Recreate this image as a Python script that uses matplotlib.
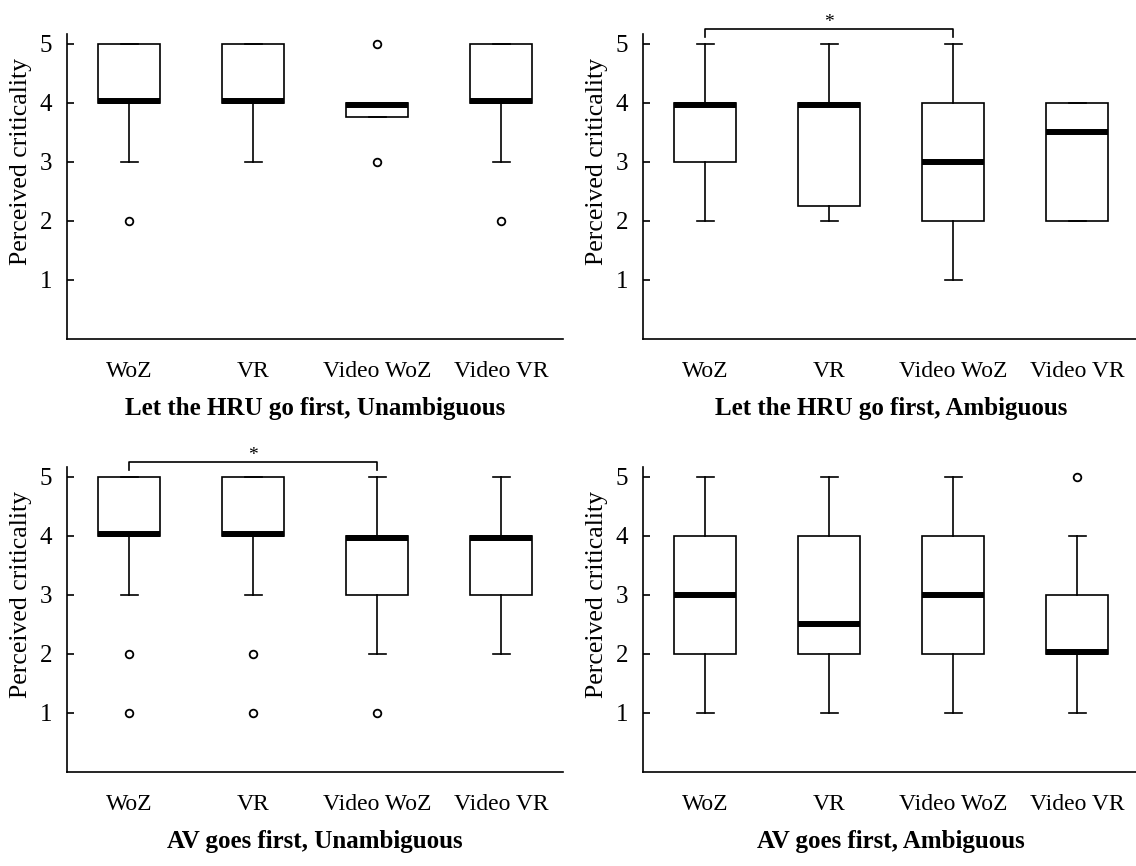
"""Box plots of perceived criticality for the four encounter scenarios."""

import matplotlib

matplotlib.use("Agg")
import matplotlib.pyplot as plt
from matplotlib import transforms

plt.rcParams["font.family"] = ["Liberation Serif", "DejaVu Serif"]

CONDITIONS = ["WoZ", "VR", "Video WoZ", "Video VR"]
PANEL_TITLES = [
    "Let the HRU go first, Unambiguous",
    "Let the HRU go first, Ambiguous",
    "AV goes first, Unambiguous",
    "AV goes first, Ambiguous",
]

# five-number summaries, one row per panel, one column per condition
Q1 = [
    [4, 4, 3.75, 4],
    [3, 2.25, 2, 2],
    [4, 4, 3, 3],
    [2, 2, 2, 2],
]
MEDIAN = [
    [4, 4, 4, 4],
    [4, 4, 3, 3.5],
    [4, 4, 4, 4],
    [3, 2.5, 3, 2],
]
Q3 = [
    [5, 5, 4, 5],
    [4, 4, 4, 4],
    [5, 5, 4, 4],
    [4, 4, 4, 3],
]
WHISKER_LOW = [
    [3, 3, 3.75, 3],
    [2, 2, 1, 2],
    [3, 3, 2, 2],
    [1, 1, 1, 1],
]
WHISKER_HIGH = [
    [5, 5, 4, 5],
    [5, 5, 5, 4],
    [5, 5, 5, 5],
    [5, 5, 5, 4],
]
OUTLIERS = [
    [[2], [], [3, 5], [2]],
    [[], [], [], []],
    [[2, 1], [2, 1], [1], []],
    [[], [], [], [5]],
]

# significant pairwise differences: (panel, first condition, second condition)
SIGNIFICANT = [(1, 0, 2), (2, 0, 2)]

LINE_W = 1.2
MEDIAN_W = 4.3
Y_TOP = 5.17

AXES_RECTS = [
    (0.0592, 0.609, 0.4366, 0.352),
    (0.5663, 0.609, 0.4366, 0.352),
    (0.0592, 0.109, 0.4366, 0.352),
    (0.5663, 0.109, 0.4366, 0.352),
]


def draw_panel(fig, ax, p):
    stats = []
    for i, name in enumerate(CONDITIONS):
        stats.append(
            {
                "label": name,
                "q1": Q1[p][i],
                "med": MEDIAN[p][i],
                "q3": Q3[p][i],
                "whislo": WHISKER_LOW[p][i],
                "whishi": WHISKER_HIGH[p][i],
                "fliers": OUTLIERS[p][i],
            }
        )
    positions = range(1, len(CONDITIONS) + 1)
    parts = ax.bxp(
        stats,
        positions=positions,
        widths=0.5,
        capwidths=0.14,
        patch_artist=True,
        boxprops=dict(facecolor="white", edgecolor="black", linewidth=LINE_W),
        whiskerprops=dict(color="black", linewidth=LINE_W),
        capprops=dict(color="black", linewidth=LINE_W),
        medianprops=dict(color="black", linewidth=MEDIAN_W, solid_capstyle="butt"),
        flierprops=dict(marker="o", markerfacecolor="none", markeredgecolor="black",
                        markersize=5.5, markeredgewidth=1.3),
    )

    # keep a median that sits on a box edge inside the box
    shift = MEDIAN_W / 2 - LINE_W / 2
    for i, line in enumerate(parts["medians"]):
        dy = 0
        if MEDIAN[p][i] == Q1[p][i] and Q3[p][i] > Q1[p][i]:
            dy = shift
        elif MEDIAN[p][i] == Q3[p][i] and Q3[p][i] > Q1[p][i]:
            dy = -shift
        if dy:
            line.set_transform(transforms.offset_copy(ax.transData, fig=fig, y=dy, units="points"))

    ax.set_xlim(0.5, 4.5)
    ax.set_ylim(0, Y_TOP)
    ax.set_yticks([1, 2, 3, 4, 5])
    ax.set_xticks(list(positions))
    ax.set_xticklabels(CONDITIONS)
    ax.tick_params(axis="y", direction="in", length=5, width=LINE_W, labelsize=18, pad=11)
    ax.tick_params(axis="x", length=0, labelsize=17, pad=16)
    for side in ("top", "right"):
        ax.spines[side].set_visible(False)
    for side in ("left", "bottom"):
        ax.spines[side].set_linewidth(LINE_W)
    ax.set_ylabel("Perceived criticality", fontsize=18.5)
    ax.yaxis.set_label_coords(-0.072, 3 / Y_TOP)
    ax.set_xlabel(PANEL_TITLES[p], fontsize=18, fontweight="bold", labelpad=11)

    for panel, a, b in SIGNIFICANT:
        if panel != p:
            continue
        xa, xb = a + 1, b + 1
        ax.plot([xa, xa, xb, xb], [5.12, 5.25, 5.25, 5.12], color="black",
                linewidth=LINE_W, clip_on=False)
        ax.text((xa + xb) / 2, 5.36, "*", ha="center", va="center", fontsize=14)


fig = plt.figure(figsize=(11.36, 8.66), dpi=100)
for p, rect in enumerate(AXES_RECTS):
    ax = fig.add_axes(rect)
    draw_panel(fig, ax, p)

fig.savefig("out.png", dpi=100, facecolor="white")
